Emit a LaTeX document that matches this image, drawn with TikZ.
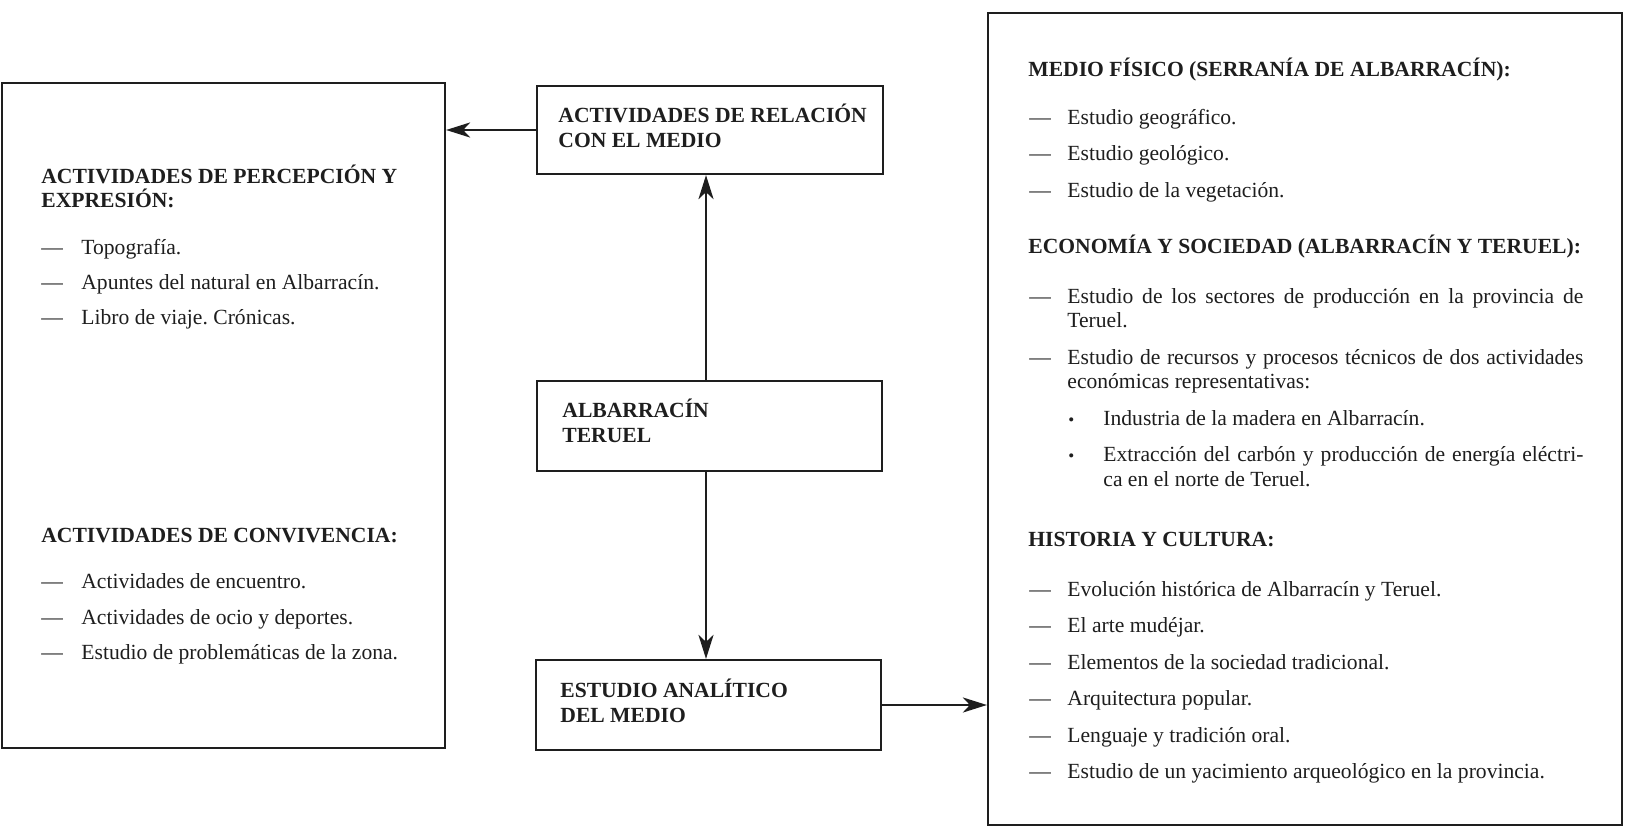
\documentclass[tikz,border=0pt]{standalone}
\usepackage{fontspec}
\setmainfont{Liberation Serif}
\usetikzlibrary{arrows.meta,fit}
\definecolor{ink}{RGB}{30,30,30}
\frenchspacing
\newcommand{\itemrow}[5]{%
  \node[txt] (#1d) at (#2,#4) {—};
  \node[txt] (#1) at (#3,#4) {#5};}
\newcommand{\bulrow}[4]{%
  \node[bul] (#1b) at (1068,#2) {•};
  \node[txt] (#1) at (#3,#2) {#4};}
\begin{document}
\begin{tikzpicture}[x=0.5pt,y=-0.5pt,
  box/.style={draw=ink,line width=1.1pt,inner sep=0pt},
  txt/.style={anchor=base west,inner sep=0pt,text=ink,font=\fontsize{10.8}{13}\selectfont},
  hd/.style={txt,font=\fontsize{10.8}{13}\selectfont\bfseries},
  bul/.style={anchor=base west,inner sep=0pt,text=ink,font=\fontsize{8.5}{9}\selectfont},
  arr/.style={-{Stealth[length=12pt,width=7.5pt,inset=3.5pt]},line width=1.4pt,draw=ink}]
\fill[white] (0,0) rectangle (1628,830);
\useasboundingbox (0,0) rectangle (1628,830);

% boxes
\node[box,fit={(2,83) (445,748)}] (L) {};
\node[box,fit={(537,86) (883,174)}] (T) {};
\node[box,fit={(537,381) (882,471)}] (A) {};
\node[box,fit={(536,660) (881,750)}] (E) {};
\node[box,fit={(988,13) (1622,825)}] (R) {};
\coordinate (ax) at (706,0);

% center texts
\node[hd] (t1) at (558,122) {ACTIVIDADES DE RELACIÓN};
\node[hd] (t2) at (558,147) {CON EL MEDIO};
\node[hd] (a1) at (562,417) {ALBARRACÍN};
\node[hd] (a2) at (562,442) {TERUEL};
\node[hd] (e1) at (560,697) {ESTUDIO ANALÍTICO};
\node[hd] (e2) at (560,722) {DEL MEDIO};

% left box texts
\node[hd] (lh1) at (41,183) {ACTIVIDADES DE PERCEPCIÓN Y};
\node[hd] (lh1b) at (41,207) {EXPRESIÓN:};
\itemrow{l1}{41}{81}{254}{Topografía.}
\itemrow{l2}{41}{81}{289}{Apuntes del natural en Albarracín.}
\itemrow{l3}{41}{81}{324}{Libro de viaje. Crónicas.}
\node[hd] (lh2) at (41,542) {ACTIVIDADES DE CONVIVENCIA:};
\itemrow{l4}{41}{81}{588}{Actividades de encuentro.}
\itemrow{l5}{41}{81}{624}{Actividades de ocio y deportes.}
\itemrow{l6}{41}{81}{659}{Estudio de problemáticas de la zona.}

% right box texts
\node[hd] (rh1) at (1028,76) {MEDIO FÍSICO (SERRANÍA DE ALBARRACÍN):};
\itemrow{r1}{1029}{1067}{124}{Estudio geográfico.}
\itemrow{r2}{1029}{1067}{160.5}{Estudio geológico.}
\itemrow{r3}{1029}{1067}{197}{Estudio de la vegetación.}
\node[hd] (rh2) at (1028,253) {ECONOMÍA Y SOCIEDAD (ALBARRACÍN Y TERUEL):};
\itemrow{r4}{1029}{1067}{303}{\makebox[258pt][s]{Estudio de los sectores de producción en la provincia de}}
\node[txt] (r4b) at (1067,327.5) {Teruel.};
\itemrow{r5}{1029}{1067}{364}{\makebox[258pt][s]{Estudio de recursos y procesos técnicos de dos actividades}}
\node[txt] (r5b) at (1067,388.5) {económicas representativas:};
\bulrow{r6}{425}{1103}{Industria de la madera en Albarracín.}
\bulrow{r7}{461.5}{1103}{\makebox[240pt][s]{Extracción del carbón y producción de energía eléctri-}}
\node[txt] (r7b) at (1103,486) {ca en el norte de Teruel.};
\node[hd] (rh3) at (1028,546) {HISTORIA Y CULTURA:};
\itemrow{r8}{1029}{1067}{596}{Evolución histórica de Albarracín y Teruel.}
\itemrow{r9}{1029}{1067}{632.5}{El arte mudéjar.}
\itemrow{r10}{1029}{1067}{669}{Elementos de la sociedad tradicional.}
\itemrow{r11}{1029}{1067}{705.5}{Arquitectura popular.}
\itemrow{r12}{1029}{1067}{742}{Lenguaje y tradición oral.}
\itemrow{r13}{1029}{1067}{778.5}{Estudio de un yacimiento arqueológico en la provincia.}

% connectors
\draw[arr] (T.west) -- (T.west -| L.east);
\draw[arr] (A.north -| ax) -- (T.south -| ax);
\draw[arr] (A.south -| ax) -- (E.north -| ax);
\draw[arr] (E.east) -- (E.east -| R.west);
\end{tikzpicture}
\end{document}
